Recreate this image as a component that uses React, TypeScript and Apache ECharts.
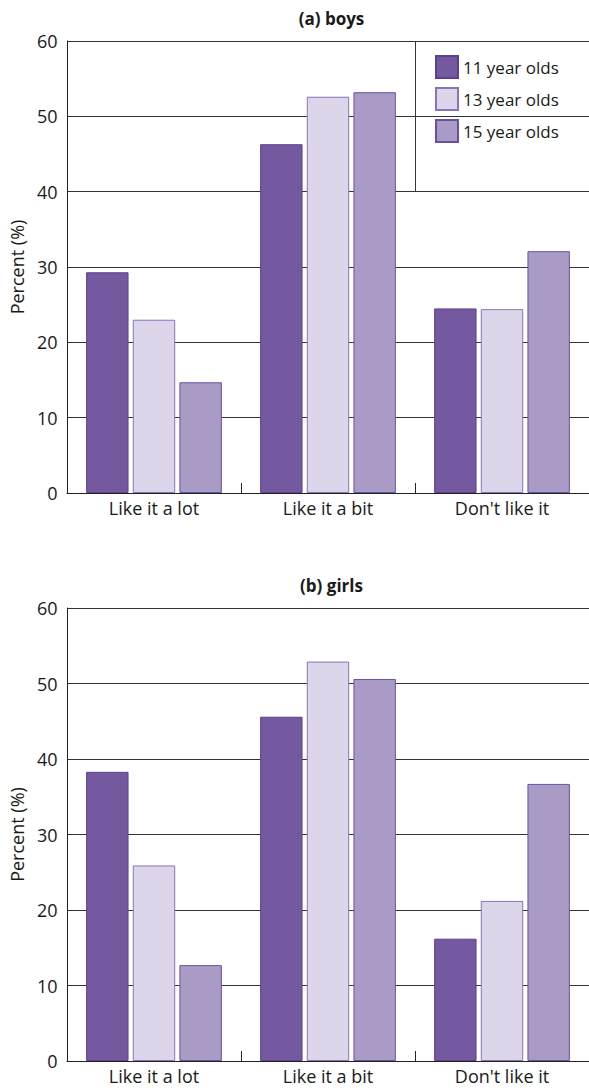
import React, { useEffect, useRef } from "react";
import * as echarts from "echarts";

const categories = ["Like it a lot", "Like it a bit", "Don't like it"];
const seriesNames = ["11 year olds", "13 year olds", "15 year olds"];
const boys11 = [29.3, 46.3, 24.5];
const boys13 = [23.0, 52.6, 24.4];
const boys15 = [14.7, 53.2, 32.1];
const girls11 = [38.3, 45.6, 16.2];
const girls13 = [25.9, 52.9, 21.2];
const girls15 = [12.7, 50.6, 36.7];
const yTicks = [0, 10, 20, 30, 40, 50, 60];
const titles = ["(a) boys", "(b) girls"];

const fills = ["#7459A0", "#DDD6EA", "#AA9AC6"];
const borders = ["#5B4290", "#8A72B8", "#6A50A2"];
const FONT = "Open Sans";

export default function App() {
  const ref = useRef<HTMLDivElement>(null);
  useEffect(() => {
    if (!ref.current) return;
    const chart = echarts.init(ref.current, null, { renderer: "svg" });
    const grids = [
      { left: 64, top: 41, width: 525, height: 452 },
      { left: 64, top: 608, width: 525, height: 453 },
    ];
    const mkX = (i: number) => ({
      type: "category",
      gridIndex: i,
      data: categories,
      axisLine: { show: true, lineStyle: { color: "#222", width: 1 } },
      axisTick: { show: true, inside: true, length: 10, interval: 0, lineStyle: { color: "#222" } },
      axisLabel: { fontSize: 18, color: "#1a1a1a", fontFamily: FONT, margin: 6, interval: 0 },
    });
    const mkY = (i: number) => ({
      type: "value",
      gridIndex: i,
      min: yTicks[0],
      max: yTicks[yTicks.length - 1],
      interval: 10,
      name: "Percent (%)",
      nameLocation: "middle",
      nameGap: 37,
      nameTextStyle: { fontSize: 18, color: "#1a1a1a", fontFamily: FONT },
      axisLine: { show: true, lineStyle: { color: "#222", width: 1 } },
      axisTick: { show: false },
      axisLabel: { fontSize: 18, color: "#1a1a1a", fontFamily: FONT, margin: 9.5 },
      splitLine: { show: true, lineStyle: { color: "#333", width: 1 } },
    });
    const data = [
      [boys11, boys13, boys15],
      [girls11, girls13, girls15],
    ];
    const series: any[] = [];
    data.forEach((group, gi) => {
      group.forEach((vals, si) => {
        series.push({
          type: "bar",
          name: seriesNames[si],
          xAxisIndex: gi,
          yAxisIndex: gi,
          data: vals,
          barGap: "10%",
          barCategoryGap: "22%",
          itemStyle: { color: fills[si], borderColor: borders[si], borderWidth: 1 },
        });
      });
    });
    chart.setOption({
      animation: false,
      title: titles.map((t, i) => ({
        text: t,
        left: 326.5,
        textAlign: "center",
        top: i === 0 ? 5 : 572,
        textStyle: { fontSize: 17, fontWeight: "bold", color: "#1a1a1a", fontFamily: FONT },
      })),
      grid: grids,
      xAxis: [mkX(0), mkX(1)],
      yAxis: [mkY(0), mkY(1)],
      legend: {
        data: seriesNames,
        orient: "vertical",
        left: 430,
        top: 50,
        itemWidth: 22,
        itemHeight: 22,
        itemGap: 8,
        icon: "rect",
        textStyle: { fontSize: 17, color: "#1a1a1a", fontFamily: FONT },
        selectedMode: false,
      },
      graphic: [
        {
          type: "line",
          shape: { x1: 415.5, y1: 41, x2: 415.5, y2: 191.7 },
          style: { stroke: "#333", lineWidth: 1 },
        },
      ],
      series,
    });
    return () => chart.dispose();
  }, []);
  return (
    <div
      ref={ref}
      style={{ position: "absolute", left: 0, top: 0, width: 589, height: 1091, background: "#fff" }}
    />
  );
}
